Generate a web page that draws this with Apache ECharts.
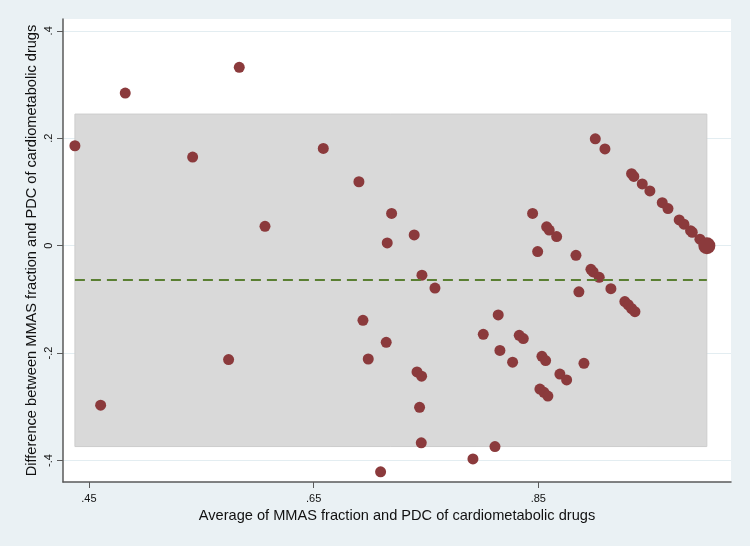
<!DOCTYPE html>
<html>
<head>
<meta charset="utf-8">
<script src="https://cdn.jsdelivr.net/npm/echarts@6/dist/echarts.min.js"></script>
<style>
  html, body { margin: 0; padding: 0; background: #eaf1f4; }
  #box { width: 750px; height: 546px; }
</style>
</head>
<body>
<div id="box"></div>
<script>
// average of the two measures (x) and their difference (y), one entry per point
const avgVals = [
  0.4375, 0.4604, 0.4823, 0.5423, 0.5743, 0.5838, 0.6067, 0.6586, 0.6903, 0.6939,
  0.6986, 0.7096, 0.7146, 0.7155, 0.7194, 0.7395, 0.742, 0.7443, 0.7458, 0.7461,
  0.7464, 0.758, 0.7918, 0.801, 0.8114, 0.8143, 0.8158, 0.8271, 0.833, 0.8366,
  0.8449, 0.8494, 0.8514, 0.8532, 0.855, 0.8565, 0.8574, 0.8585, 0.8597, 0.8663,
  0.8692, 0.8752, 0.8835, 0.8861, 0.8906, 0.8968, 0.8988, 0.9007, 0.9042, 0.9093,
  0.9146, 0.927, 0.930, 0.933, 0.933, 0.935, 0.936, 0.9425, 0.9493, 0.9603,
  0.9654, 0.9754, 0.9796, 0.9855, 0.987, 0.9938, 1.0
];
const diffVals = [
  0.186, -0.297, 0.284, 0.165, -0.212, 0.332, 0.036, 0.181, 0.119, -0.139,
  -0.211, -0.421, -0.180, 0.005, 0.060, 0.020, -0.235, -0.301, -0.367, -0.243,
  -0.055, -0.079, -0.397, -0.165, -0.374, -0.129, -0.195, -0.217, -0.167, -0.173,
  0.060, -0.011, -0.267, -0.206, -0.273, -0.214, 0.035, -0.280, 0.029, 0.017,
  -0.239, -0.250, -0.018, -0.086, -0.219, -0.044, -0.049, 0.199, -0.059, 0.180,
  -0.080, -0.104, -0.110, 0.134, -0.117, 0.129, -0.123, 0.115, 0.102, 0.080,
  0.069, 0.048, 0.040, 0.028, 0.025, 0.012, 0.000
];
// marker weight (area), the point at (1, 0) is drawn larger
const markerWeight = avgVals.map(function (v, i) { return i === avgVals.length - 1 ? 2.4 : 1; });

const meanDiff = -0.064;
const limitsOfAgreement = [-0.374, 0.245];

const xTicks = [0.45, 0.65, 0.85];
const yTicks = [-0.4, -0.2, 0, 0.2, 0.4];

function stataLabel (v) {
  if (v === 0) return '0';
  return (v < 0 ? '-' : '') + String(Math.abs(v)).replace(/^0/, '');
}

const xMin = Math.min.apply(null, avgVals);
const xMax = Math.max.apply(null, avgVals);
const font = "'Liberation Sans', Arial, sans-serif";
const axisColor = '#5a5a5a';

const points = avgVals.map(function (x, i) { return [x, diffVals[i], markerWeight[i]]; });

const chart = echarts.init(document.getElementById('box'));
chart.setOption({
  backgroundColor: '#eaf1f4',
  animation: false,
  textStyle: { fontFamily: font },
  grid: {
    left: 63, right: 19, top: 19, bottom: 64,
    show: true, backgroundColor: '#ffffff', borderWidth: 0
  },
  xAxis: {
    type: 'value',
    min: 0.4269, max: 1.0215,
    name: 'Average of MMAS fraction and PDC of cardiometabolic drugs',
    nameLocation: 'middle', nameGap: 24,
    nameTextStyle: { fontSize: 14.6, color: '#111', fontFamily: font },
    axisLine: { show: true, onZero: false, lineStyle: { color: axisColor, width: 1.5 } },
    axisTick: { show: true, length: 6, customValues: xTicks, lineStyle: { color: axisColor } },
    axisLabel: { customValues: xTicks, formatter: stataLabel, fontSize: 11, color: '#111', margin: 11 },
    splitLine: { show: false }
  },
  yAxis: {
    type: 'value',
    min: -0.44, max: 0.422,
    name: 'Difference between MMAS fraction and PDC of cardiometabolic drugs',
    nameLocation: 'middle', nameGap: 24, nameRotate: 90,
    nameMoveOverlap: false,
    nameTextStyle: { fontSize: 14.6, color: '#111', fontFamily: font },
    axisLine: { show: true, onZero: false, lineStyle: { color: axisColor, width: 1.5 } },
    axisTick: { show: true, length: 6, customValues: yTicks, lineStyle: { color: axisColor } },
    axisLabel: { customValues: yTicks, formatter: stataLabel, fontSize: 11, color: '#111', rotate: 90, margin: 9 },
    splitLine: { show: true, lineStyle: { color: '#e3edf1', width: 1 } }
  },
  series: [
    {
      type: 'scatter',
      z: 3,
      data: points,
      symbolSize: function (d) { return 11 * Math.sqrt(d[2]); },
      itemStyle: { color: '#8b3a3c', opacity: 1 },
      markArea: {
        silent: true,
        itemStyle: { color: '#d9d9d9', borderColor: '#cdcdcd', borderWidth: 1 },
        data: [[
          { coord: [xMin, limitsOfAgreement[1]] },
          { coord: [xMax, limitsOfAgreement[0]] }
        ]]
      },
      markLine: {
        silent: true,
        symbol: 'none',
        label: { show: false },
        lineStyle: { color: '#5a7f32', type: [10, 6], width: 1.8 },
        data: [[
          { coord: [xMin, meanDiff] },
          { coord: [xMax, meanDiff] }
        ]]
      }
    }
  ]
});
</script>
</body>
</html>
